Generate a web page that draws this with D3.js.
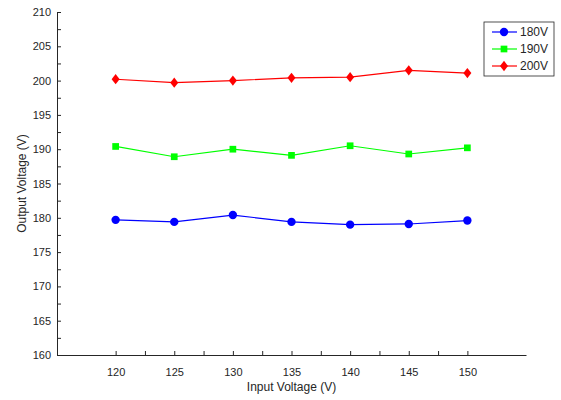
<!DOCTYPE html>
<html>
<head>
<meta charset="utf-8">
<script src="https://cdn.jsdelivr.net/npm/d3@7"></script>
<style>
  body { margin: 0; background: #fff; }
  svg text { font-family: "Liberation Sans", Arial, sans-serif; fill: #262626; }
</style>
</head>
<body>
<div id="chart"></div>
<script>
// input voltages (x)
const inputVoltage = [120, 125, 130, 135, 140, 145, 150];
// output voltage for each setpoint
const series180 = [179.7, 179.4, 180.4, 179.4, 179.0, 179.1, 179.6];
const series190 = [190.4, 188.9, 190.0, 189.1, 190.5, 189.3, 190.2];
const series200 = [200.2, 199.7, 200.0, 200.4, 200.5, 201.5, 201.1];
const seriesNames = ["180V", "190V", "200V"];
const xTickLabels = [120, 125, 130, 135, 140, 145, 150];
const yTickLabels = [160, 165, 170, 175, 180, 185, 190, 195, 200, 205, 210];

const W = 561, H = 400;
const margin = { top: 12, right: 35, bottom: 45, left: 57 };
const width = W - margin.left - margin.right;
const height = H - margin.top - margin.bottom;

const svg = d3.select("#chart")
    .append("svg")
    .attr("width", W)
    .attr("height", H)
    .append("g")
    .attr("transform", `translate(${margin.left}, ${margin.top})`);

const x = d3.scaleLinear().domain([115, 155]).range([0, width]);
const y = d3.scaleLinear().domain([160, 210]).range([height, 0]);

// minor ticks every 2.5, labels every 5
const xTicks = d3.range(120, 150.01, 2.5);
const yTicks = d3.range(160, 210.01, 2.5);

const xAxis = svg.append("g")
    .attr("transform", `translate(0, ${height})`)
    .call(d3.axisBottom(x).tickValues(xTicks).tickSizeInner(-4).tickSizeOuter(0).tickPadding(13)
        .tickFormat(d => xTickLabels.includes(d) ? d : ""));
const yAxis = svg.append("g")
    .call(d3.axisLeft(y).tickValues(yTicks).tickSizeInner(-4).tickSizeOuter(0).tickPadding(6)
        .tickFormat(d => yTickLabels.includes(d) ? d : ""));

[xAxis, yAxis].forEach(a => {
    a.select(".domain").attr("stroke", "#262626");
    a.selectAll(".tick line").attr("stroke", "#262626");
    a.selectAll(".tick text").style("font-size", "11px").attr("fill", "#262626");
});

// axis labels
svg.append("text")
    .attr("x", x(135))
    .attr("y", height + 36)
    .attr("text-anchor", "middle")
    .style("font-size", "12px")
    .text("Input Voltage (V)");

svg.append("text")
    .attr("transform", `translate(${-31}, ${height / 2}) rotate(-90)`)
    .attr("text-anchor", "middle")
    .style("font-size", "12px")
    .text("Output Voltage (V)");

const data = [series180, series190, series200];
const colors = ["#0000ff", "#00ff00", "#ff0000"];
const shapes = [d3.symbolCircle, d3.symbolSquare, d3.symbolDiamond];
const sizes = [55, 45, 50];
const diamondScale = " scale(1.05,0.78)";

const line = d3.line()
    .x((d, i) => x(inputVoltage[i]))
    .y(d => y(d));

data.forEach((vals, k) => {
    svg.append("path")
        .datum(vals)
        .attr("fill", "none")
        .attr("stroke", colors[k])
        .attr("stroke-width", 1.2)
        .attr("d", line);

    svg.append("g")
        .selectAll("path")
        .data(vals)
        .join("path")
        .attr("transform", (d, i) => `translate(${x(inputVoltage[i])}, ${y(d)})` + (k === 2 ? diamondScale : ""))
        .attr("d", d3.symbol().type(shapes[k]).size(sizes[k]))
        .attr("fill", colors[k]);
});

// legend
const legend = svg.append("g")
    .attr("transform", `translate(${484 - margin.left}, ${22 - margin.top})`);

legend.append("rect")
    .attr("width", 70)
    .attr("height", 54)
    .attr("fill", "#fff")
    .attr("stroke", "#262626")
    .attr("stroke-width", 0.8);

const items = legend.selectAll(".legend-item")
    .data(seriesNames)
    .join("g")
    .attr("class", "legend-item")
    .attr("transform", (d, i) => `translate(0, ${10 + i * 17})`);

items.append("line")
    .attr("x1", 8)
    .attr("x2", 33)
    .attr("stroke", (d, i) => colors[i])
    .attr("stroke-width", 1.2);

items.append("path")
    .attr("transform", (d, i) => `translate(20, 0)` + (i === 2 ? diamondScale : ""))
    .attr("d", (d, i) => d3.symbol().type(shapes[i]).size(sizes[i])())
    .attr("fill", (d, i) => colors[i]);

items.append("text")
    .attr("x", 36)
    .attr("dy", "0.35em")
    .style("font-size", "12px")
    .text(d => d);
</script>
</body>
</html>
